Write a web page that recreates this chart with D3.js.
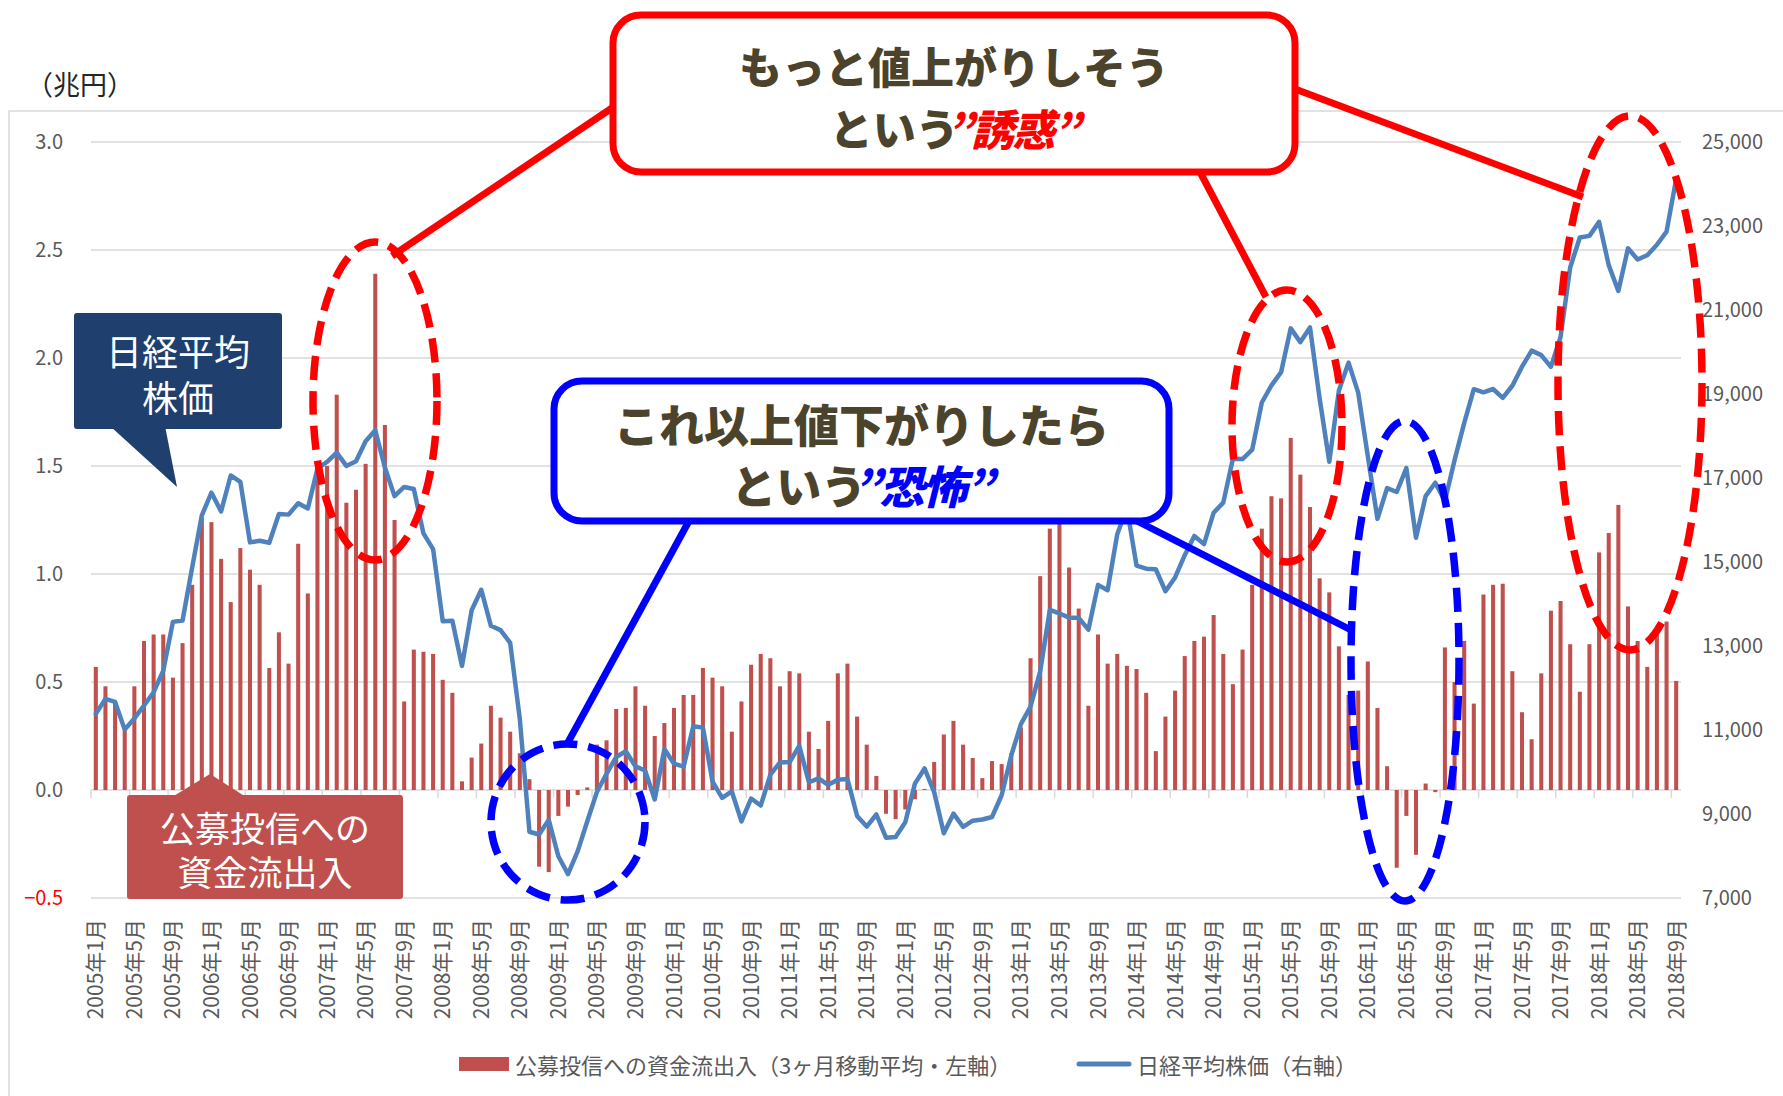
<!DOCTYPE html>
<html>
<head>
<meta charset="utf-8">
<script src="https://cdn.jsdelivr.net/npm/d3@7"></script>
<style>
  body { margin: 0; background: #fff; }
  text { font-family: "Noto Sans CJK JP", "Noto Sans", sans-serif; }
</style>
</head>
<body>
<div id="chart"></div>
<script>
// 公募投信への資金流出入 (3ヶ月移動平均, 兆円) 2005/1 - 2018/9
var flows = [
  0.57, 0.48, 0.41, 0.30, 0.48, 0.69, 0.72, 0.72, 0.52, 0.68, 0.95, 1.26,   // 2005
  1.24, 1.07, 0.87, 1.12, 1.02, 0.95, 0.565, 0.73, 0.585, 1.14, 0.91, 1.50,  // 2006
  1.50, 1.83, 1.33, 1.39, 1.51, 2.39, 1.69, 1.25, 0.41, 0.65, 0.64, 0.63,    // 2007
  0.51, 0.45, 0.04, 0.15, 0.215, 0.39, 0.335, 0.27, 0.17, 0.05, -0.355, -0.38, // 2008
  -0.12, -0.077, -0.023, 0.012, 0.21, 0.23, 0.375, 0.38, 0.48, 0.39, 0.25, 0.31, // 2009
  0.38, 0.44, 0.44, 0.565, 0.52, 0.48, 0.27, 0.41, 0.58, 0.63, 0.61, 0.48,   // 2010
  0.55, 0.54, 0.27, 0.19, 0.32, 0.54, 0.585, 0.34, 0.21, 0.065, -0.11, -0.135, // 2011
  -0.09, -0.043, 0.005, 0.13, 0.257, 0.32, 0.21, 0.148, 0.055, 0.134, 0.12, 0.17, // 2012
  0.29, 0.61, 0.99, 1.21, 1.24, 1.03, 0.84, 0.39, 0.72, 0.585, 0.63, 0.575,  // 2013
  0.56, 0.45, 0.18, 0.34, 0.46, 0.62, 0.69, 0.71, 0.81, 0.63, 0.49, 0.65,    // 2014
  0.95, 1.21, 1.36, 1.35, 1.63, 1.46, 1.31, 0.98, 0.915, 0.665, 0.44, 0.46,  // 2015
  0.595, 0.38, 0.11, -0.36, -0.12, -0.30, 0.03, -0.01, 0.66, 0.50, 0.69, 0.40, // 2016
  0.905, 0.95, 0.955, 0.55, 0.36, 0.235, 0.54, 0.83, 0.875, 0.675, 0.455, 0.675, // 2017
  1.10, 1.19, 1.32, 0.85, 0.69, 0.57, 0.72, 0.78, 0.505                       // 2018
];

// 日経平均株価 (月末, 円)
var nikkei = [
  11388, 11741, 11669, 11009, 11277, 11584, 11900, 12414, 13574, 13607, 14872, 16111,
  16650, 16205, 17060, 16906, 15467, 15505, 15457, 16141, 16128, 16399, 16274, 17226,
  17383, 17604, 17288, 17400, 17876, 18138, 17249, 16569, 16786, 16738, 15681, 15308,
  13592, 13603, 12526, 13850, 14339, 13481, 13377, 13073, 11260, 8577, 8512, 8860,
  7994, 7568, 8110, 8828, 9523, 9958, 10357, 10493, 10133, 10035, 9346, 10546,
  10198, 10126, 11090, 11057, 9769, 9383, 9537, 8824, 9369, 9202, 9937, 10229,
  10238, 10624, 9755, 9850, 9694, 9816, 9833, 8955, 8700, 8988, 8435, 8455,
  8803, 9723, 10084, 9521, 8543, 9007, 8695, 8840, 8870, 8928, 9446, 10395,
  11139, 11559, 12398, 13861, 13775, 13677, 13668, 13389, 14456, 14328, 15662, 16291,
  14915, 14841, 14828, 14304, 14632, 15162, 15621, 15425, 16174, 16414, 17460, 17451,
  17674, 18798, 19207, 19520, 20563, 20236, 20585, 18890, 17388, 19083, 19747, 19034,
  17518, 16027, 16759, 16666, 17235, 15576, 16569, 16887, 16450, 17425, 18308, 19114,
  19041, 19119, 18909, 19197, 19651, 20033, 19925, 19646, 20356, 22012, 22725, 22765,
  23098, 22068, 21454, 22468, 22202, 22305, 22554, 22865, 24120
];

var leftTicks = [3.0, 2.5, 2.0, 1.5, 1.0, 0.5, 0.0, -0.5];
var rightTicks = [25000, 23000, 21000, 19000, 17000, 15000, 13000, 11000, 9000, 7000];

var legendBar = "公募投信への資金流出入（3ヶ月移動平均・左軸）";
var legendLine = "日経平均株価（右軸）";

// month categories
var months = [];
for (var yr = 2005; yr <= 2018; yr++) {
  for (var m = 1; m <= 12; m++) {
    if (yr == 2018 && m > 9) break;
    months.push(yr + "年" + m + "月");
  }
}

function draw() {
  var width = 1783, height = 1096;
  var plotLeft = 91, plotRight = 1681, plotTop = 142, plotBottom = 898;

  var svg = d3.select("#chart").append("svg")
    .attr("width", width)
    .attr("height", height);

  // outer chart frame
  svg.append("rect")
    .attr("x", 9).attr("y", 111)
    .attr("width", 1800).attr("height", 1100)
    .attr("fill", "none")
    .attr("stroke", "#d9d9d9")
    .attr("stroke-width", 1.5);

  var x = d3.scaleBand()
    .domain(d3.range(months.length))
    .range([plotLeft, plotRight])
    .paddingInner(0.58)
    .paddingOuter(0.29);

  var yL = d3.scaleLinear().domain([-0.5, 3.0]).range([plotBottom, plotTop]);
  var yR = d3.scaleLinear().domain([7000, 25000]).range([plotBottom, plotTop]);

  // gridlines
  svg.append("g")
    .selectAll("line")
    .data(leftTicks)
    .enter()
    .append("line")
      .attr("x1", plotLeft).attr("x2", plotRight)
      .attr("y1", d => yL(d)).attr("y2", d => yL(d))
      .attr("stroke", "#d9d9d9")
      .attr("stroke-width", 1.5);

  // category tick marks on the zero line
  var step = x.step();
  svg.append("g")
    .selectAll("line")
    .data(d3.range(0, months.length, 4))
    .enter()
    .append("line")
      .attr("x1", d => plotLeft + d * step).attr("x2", d => plotLeft + d * step)
      .attr("y1", yL(0)).attr("y2", yL(0) + 8)
      .attr("stroke", "#d9d9d9")
      .attr("stroke-width", 1.5);

  // left axis
  var yAxisL = g => g
    .attr("transform", `translate(${plotLeft},0)`)
    .call(d3.axisLeft(yL).tickValues(leftTicks).tickFormat(d3.format(".1f")).tickSize(0).tickPadding(28))
    .call(g => g.select(".domain").remove())
    .call(g => g.selectAll("text")
        .attr("font-size", "20px")
        .attr("font-family", "'Noto Sans', sans-serif")
        .attr("fill", d => d < 0 ? "#ff0000" : "#595959"));
  svg.append("g").call(yAxisL);

  // right axis
  var yAxisR = g => g
    .attr("transform", `translate(${plotRight},0)`)
    .call(d3.axisRight(yR).tickValues(rightTicks).tickFormat(d3.format(",")).tickSize(0).tickPadding(21))
    .call(g => g.select(".domain").remove())
    .call(g => g.selectAll("text")
        .attr("font-size", "20px")
        .attr("font-family", "'Noto Sans', sans-serif")
        .attr("fill", "#595959"));
  svg.append("g").call(yAxisR);

  // x axis labels (rotated)
  var xAxis = g => g
    .attr("transform", `translate(0,${plotBottom})`)
    .call(d3.axisBottom(x).tickValues(d3.range(0, months.length, 4)).tickFormat(i => months[i]).tickSize(0))
    .call(g => g.select(".domain").remove())
    .call(g => g.selectAll("text")
        .attr("font-size", "21px")
        .attr("font-family", "'Noto Sans CJK JP', sans-serif")
        .attr("fill", "#595959")
        .attr("transform", "rotate(-90)")
        .attr("text-anchor", "end")
        .attr("x", -21)
        .attr("y", 0)
        .attr("dy", "0.36em"));
  svg.append("g").call(xAxis);

  // bars
  svg.append("g")
    .attr("fill", "#c0504d")
    .selectAll("rect")
    .data(flows)
    .enter()
    .append("rect")
      .attr("x", (d, i) => x(i))
      .attr("y", d => yL(Math.max(0, d)))
      .attr("width", x.bandwidth())
      .attr("height", d => Math.abs(yL(d) - yL(0)));

  // nikkei line
  var line = d3.line()
    .x((d, i) => x(i) + x.bandwidth() / 2)
    .y(d => yR(d));

  svg.append("path")
    .datum(nikkei)
    .attr("d", line)
    .attr("fill", "none")
    .attr("stroke", "#4f81bd")
    .attr("stroke-width", 4.5)
    .attr("stroke-linejoin", "round")
    .attr("stroke-linecap", "round");

  // unit label
  svg.append("text")
    .attr("x", 26).attr("y", 83)
    .attr("dominant-baseline", "central")
    .attr("font-size", "27px")
    .attr("fill", "#262626")
    .text("（兆円）");

  // 日経平均株価 callout
  svg.append("polygon")
    .attr("points", "110,426 165,426 177,487")
    .attr("fill", "#1f3f6e");
  svg.append("rect")
    .attr("x", 74).attr("y", 313).attr("width", 208).attr("height", 116).attr("rx", 3)
    .attr("fill", "#1f3f6e");
  svg.append("text")
    .attr("x", 178).attr("y", 350).attr("text-anchor", "middle").attr("dominant-baseline", "central")
    .attr("font-size", "36px").attr("fill", "#fff").text("日経平均");
  svg.append("text")
    .attr("x", 178).attr("y", 396).attr("text-anchor", "middle").attr("dominant-baseline", "central")
    .attr("font-size", "36px").attr("fill", "#fff").text("株価");

  // 公募投信 callout
  svg.append("polygon")
    .attr("points", "172,797 246,797 210,774")
    .attr("fill", "#c0504d");
  svg.append("rect")
    .attr("x", 127).attr("y", 795).attr("width", 276).attr("height", 104).attr("rx", 3)
    .attr("fill", "#c0504d");
  svg.append("text")
    .attr("x", 265).attr("y", 826).attr("text-anchor", "middle").attr("dominant-baseline", "central")
    .attr("font-size", "35px").attr("fill", "#fff").text("公募投信への");
  svg.append("text")
    .attr("x", 265).attr("y", 870).attr("text-anchor", "middle").attr("dominant-baseline", "central")
    .attr("font-size", "35px").attr("fill", "#fff").text("資金流出入");

  // dashed ellipses
  var ellipses = [
    {cx: 375, cy: 401, rx: 62, ry: 159, c: "#ff0000"},
    {cx: 1287, cy: 426, rx: 55, ry: 136, c: "#ff0000"},
    {cx: 1630, cy: 383, rx: 72, ry: 267, c: "#ff0000"},
    {cx: 568, cy: 822, rx: 77, ry: 78, c: "#0000ff"},
    {cx: 1405, cy: 661, rx: 54, ry: 240, c: "#0000ff"}
  ];
  svg.append("g")
    .selectAll("ellipse")
    .data(ellipses)
    .enter()
    .append("ellipse")
      .attr("cx", d => d.cx).attr("cy", d => d.cy)
      .attr("rx", d => d.rx).attr("ry", d => d.ry)
      .attr("fill", "none")
      .attr("stroke", d => d.c)
      .attr("stroke-width", 7.5)
      .attr("stroke-dasharray", "24 11");

  // pointer lines
  var pointers = [
    [612, 108, 392, 256, "#ff0000"],
    [1200, 172, 1266, 297, "#ff0000"],
    [1295, 89, 1583, 197, "#ff0000"],
    [689, 521, 566, 746, "#0000ff"],
    [1137, 521, 1353, 631, "#0000ff"]
  ];
  svg.append("g")
    .selectAll("line")
    .data(pointers)
    .enter()
    .append("line")
      .attr("x1", d => d[0]).attr("y1", d => d[1])
      .attr("x2", d => d[2]).attr("y2", d => d[3])
      .attr("stroke", d => d[4])
      .attr("stroke-width", 7);

  // big callout boxes
  function callout(x0, y0, w, h, color, line1, line2a, line2b, fs, y1, y2) {
    svg.append("rect")
      .attr("x", x0).attr("y", y0).attr("width", w).attr("height", h).attr("rx", 28)
      .attr("fill", "#fff")
      .attr("stroke", color)
      .attr("stroke-width", 7);
    var cx = x0 + w / 2;
    svg.append("text")
      .attr("x", cx).attr("y", y1)
      .attr("text-anchor", "middle")
      .attr("font-size", fs + "px").attr("font-weight", "900")
      .attr("fill", "#4b432b")
      .text(line1);
    var t = svg.append("text")
      .attr("x", cx).attr("y", y2)
      .attr("text-anchor", "middle")
      .attr("font-size", fs + "px").attr("font-weight", "900")
      .attr("fill", "#4b432b");
    t.append("tspan").text(line2a);
    t.append("tspan").attr("fill", color).attr("font-style", "italic")
      .attr("dx", -(fs * 0.3)).attr("letter-spacing", "-2px").text(line2b);
  }

  callout(613, 15, 682, 157, "#ff0000", "もっと値上がりしそう", "という", "”誘惑”", 43, 84, 146);
  callout(554, 381, 615, 140, "#0000ff", "これ以上値下がりしたら", "という", "”恐怖”", 45, 443, 504);

  // legend
  svg.append("rect")
    .attr("x", 459).attr("y", 1057).attr("width", 50).attr("height", 14)
    .attr("fill", "#c0504d");
  svg.append("text")
    .attr("x", 515).attr("y", 1064).attr("dominant-baseline", "central")
    .attr("font-size", "22px").attr("fill", "#595959")
    .text(legendBar);
  svg.append("line")
    .attr("x1", 1079).attr("x2", 1129).attr("y1", 1064).attr("y2", 1064)
    .attr("stroke", "#4f81bd").attr("stroke-width", 5).attr("stroke-linecap", "round");
  svg.append("text")
    .attr("x", 1137).attr("y", 1064).attr("dominant-baseline", "central")
    .attr("font-size", "22px").attr("fill", "#595959")
    .text(legendLine);
}

draw();
</script>
</body>
</html>
